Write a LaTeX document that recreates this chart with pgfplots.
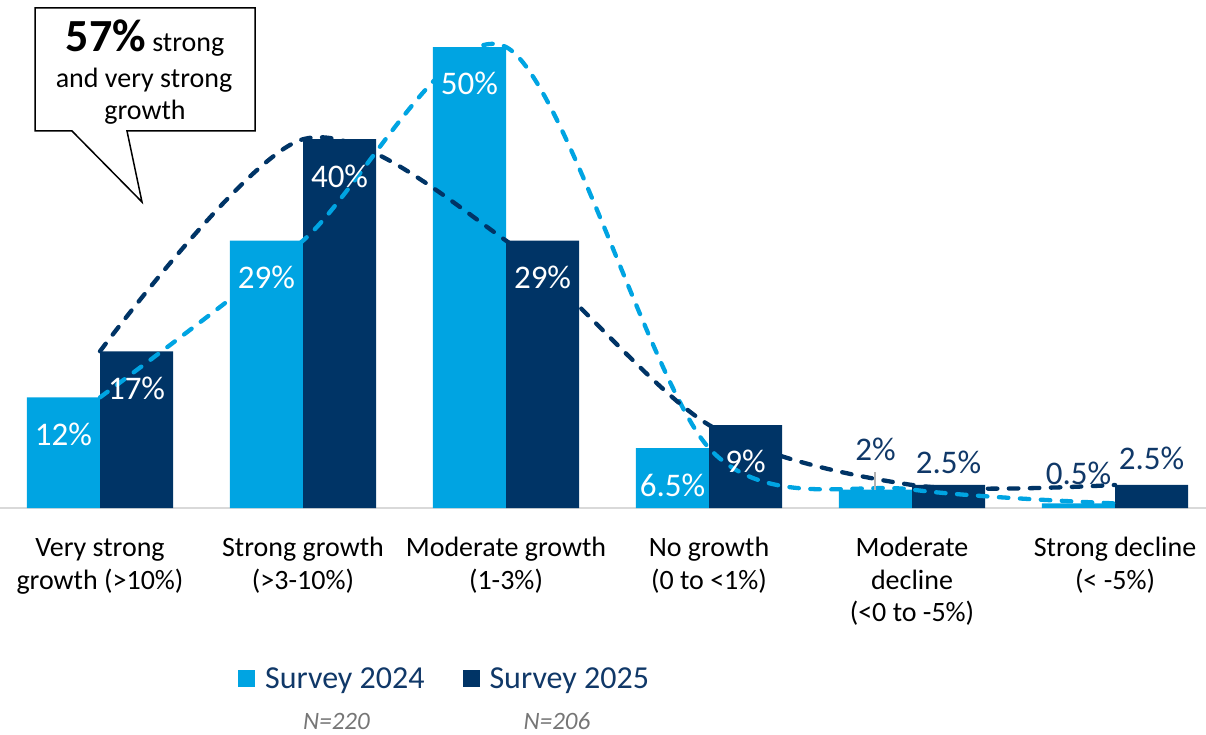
\documentclass[border=0pt]{standalone}
\usepackage{pgfplots}
\pgfplotsset{compat=1.18}
\usepackage{fontspec}
\setmainfont{Carlito}
\definecolor{c24}{RGB}{0,164,226}
\definecolor{c25}{RGB}{0,52,102}
\definecolor{navy}{RGB}{16,56,104}
\definecolor{ngray}{RGB}{118,118,118}
\definecolor{axgray}{RGB}{217,217,217}
\begin{document}
\begin{tikzpicture}[x=1pt,y=1pt]
\useasboundingbox (0,-226) rectangle (1206,508);
\begin{axis}[
  at={(0,0)}, anchor=south west,
  scale only axis, width=1206pt, height=508pt,
  xmin=-0.4926, xmax=5.448, ymin=0, ymax=55.1,
  axis y line=none, axis x line*=bottom,
  x axis line style={draw=axgray, line width=2pt, -},
  xtick={0,1,2,3,4,5},
  xticklabels={{\vphantom{d}Very strong\\growth (>10\%)},{Strong growth\\(>3-10\%)},{Moderate growth\\(1-3\%)},{No growth\\(0 to <1\%)},{Moderate\\decline\\(<0 to -5\%)},{Strong decline\\(< -5\%)}},
  major tick length=0pt,
  xticklabel style={font=\fontsize{28}{32.5}\selectfont, align=center, anchor=north, inner sep=0pt, yshift=-29pt, text=black},
  clip=false,
  legend columns=2,
  legend style={at={(0.1973,-0.3366)}, anchor=west, draw=none, fill=none, inner sep=0pt,
    font=\fontsize{32}{36}\selectfont, text=navy,
    nodes={inner sep=0pt},
    /tikz/every odd column/.append style={column sep=10pt},
    /tikz/every even column/.append style={column sep=38pt}},
  legend image code/.code={\fill[#1,draw=none] (0pt,-8.5pt) rectangle (17pt,8.5pt);},
]
\addplot[ybar, bar width=0.36, bar shift=-0.18, fill=c24, draw=none] coordinates {(0,12) (1,29) (2,50) (3,6.5) (4,2) (5,0.5)};
\addlegendentry{Survey 2024}
\addplot[ybar, bar width=0.36, bar shift=0.18, fill=c25, draw=none] coordinates {(0,17) (1,40) (2,29) (3,9) (4,2.5) (5,2.5)};
\addlegendentry{Survey 2025}
\addplot[c24, smooth, line width=4.3pt, line cap=round, dash pattern=on 9.5pt off 11.5pt, forget plot] coordinates {(0,12) (1,29) (2,50) (3,6.5) (4,2) (5,0.5)};
\addplot[c25, smooth, line width=4.3pt, line cap=round, dash pattern=on 9.5pt off 11.5pt, forget plot] coordinates {(0,17) (1,40) (2,29) (3,9) (4,2.5) (5,2.5)};
% value labels
\begin{scope}[every node/.style={font=\fontsize{33}{36}\selectfont, anchor=base, inner sep=0pt}]
\node[text=white] at (axis cs:-0.18,6.8) {12\%};
\node[text=white] at (axis cs:0.82,23.8) {29\%};
\node[text=white] at (axis cs:1.82,44.8) {50\%};
\node[text=white] at (axis cs:2.82,1.3) {6.5\%};
\node[text=white] at (axis cs:0.18,11.8) {17\%};
\node[text=white] at (axis cs:1.18,34.8) {40\%};
\node[text=white] at (axis cs:2.18,23.8) {29\%};
\node[text=white] at (axis cs:3.18,3.8) {9\%};
\node[text=navy] at (axis cs:3.82,5.1) {2\%};
\node[text=navy] at (axis cs:4.18,3.69) {2.5\%};
\node[text=navy] at (axis cs:4.82,2.5) {0.5\%};
\node[text=navy] at (axis cs:5.18,4.23) {2.5\%};
\end{scope}
\draw[gray!60, line width=1.2pt] (axis cs:3.818,3.9) -- (axis cs:3.818,2.0);
\end{axis}
% callout
\filldraw[fill=white, draw=black, line width=1.5pt] (35,500) -- (255,500) -- (255,377) -- (127,377) -- (142,306) -- (72,377) -- (35,377) -- cycle;
\node[anchor=base, inner sep=0pt, font=\fontsize{28}{32}\selectfont] at (145,456) {{\fontsize{46}{46}\selectfont\bfseries 57\%} strong};
\node[anchor=base, inner sep=0pt, font=\fontsize{28}{32}\selectfont] at (144,420) {and very strong};
\node[anchor=base, inner sep=0pt, font=\fontsize{28}{32}\selectfont] at (145,388) {growth};
% sample sizes
\node[anchor=base, inner sep=0pt, font=\fontsize{25}{25}\selectfont\itshape, text=ngray] at (336.5,-221) {N=220};
\node[anchor=base, inner sep=0pt, font=\fontsize{25}{25}\selectfont\itshape, text=ngray] at (557,-221) {N=206};
\end{tikzpicture}
\end{document}
